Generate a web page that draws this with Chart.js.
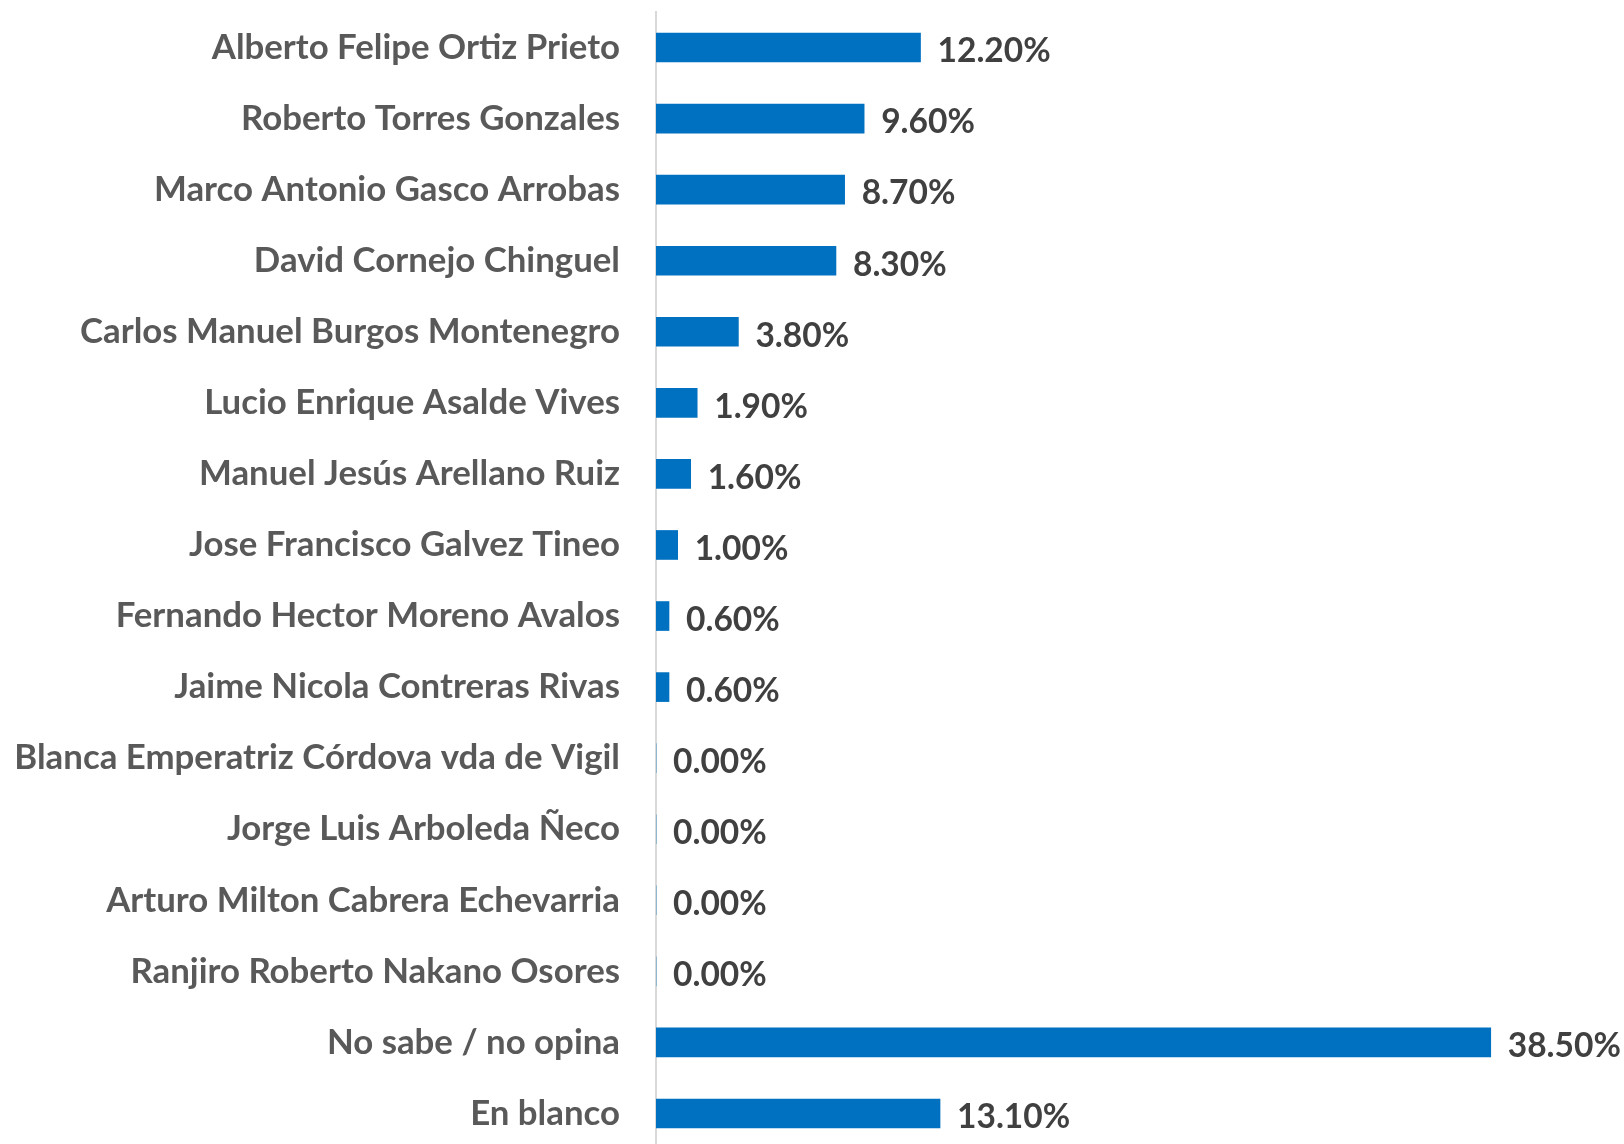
<!DOCTYPE html>
<html><head><meta charset="utf-8">
<script src="https://cdn.jsdelivr.net/npm/chart.js@4/dist/chart.umd.min.js"></script>
<style>html,body{margin:0;padding:0;background:#fff;overflow:hidden;width:1624px;height:1144px}</style>
</head><body><canvas id="c" width="1624" height="1149"></canvas>
<script>
const categories = ["Alberto Felipe Ortiz Prieto","Roberto Torres Gonzales","Marco Antonio Gasco Arrobas","David Cornejo Chinguel","Carlos Manuel Burgos Montenegro","Lucio Enrique Asalde Vives","Manuel Jesús Arellano Ruiz","Jose Francisco Galvez Tineo","Fernando Hector Moreno Avalos","Jaime Nicola Contreras Rivas","Blanca Emperatriz Córdova vda de Vigil","Jorge Luis Arboleda Ñeco","Arturo Milton Cabrera Echevarria","Ranjiro Roberto Nakano Osores","No sabe / no opina","En blanco"];
const values = [12.2,9.6,8.7,8.3,3.8,1.9,1.6,1.0,0.6,0.6,0,0,0,0,38.5,13.1];

const FONT = "Lato";
const valueLabels = {
  id:'valueLabels',
  afterDatasetsDraw(chart){
    const ctx = chart.ctx;
    const meta = chart.getDatasetMeta(0);
    ctx.save();
    ctx.font = "bold 33.5px " + FONT;
    ctx.fillStyle = "#404040";
    ctx.textAlign = "left";
    ctx.textBaseline = "middle";
    meta.data.forEach((bar,i)=>{
      ctx.fillText(values[i].toFixed(2)+"%", bar.x + 17, bar.y + 4);
    });
    ctx.restore();
  }
};

new Chart(document.getElementById('c'), {
  type:'bar',
  data:{labels:categories, datasets:[{data:values, backgroundColor:'#0070C0', barThickness:29, borderWidth:0}]},
  options:{
    indexAxis:'y', responsive:false, animation:false, devicePixelRatio:1,
    layout:{padding:{top:12,right:14,bottom:0,left:0}},
    plugins:{legend:{display:false}, tooltip:{enabled:false}},
    scales:{
      x:{display:false, min:0, max:44, grid:{display:false}},
      y:{
        afterFit(s){ s.width = 656; s.paddingTop = 0; s.paddingBottom = 0; },
        grid:{display:false, drawTicks:false},
        border:{display:true, color:'#D9D9D9', width:2},
        ticks:{padding:36, color:'#595959', font:{family:FONT, size:34.8, weight:'bold'}}
      }
    }
  },
  plugins:[valueLabels]
});
</script></body></html>
